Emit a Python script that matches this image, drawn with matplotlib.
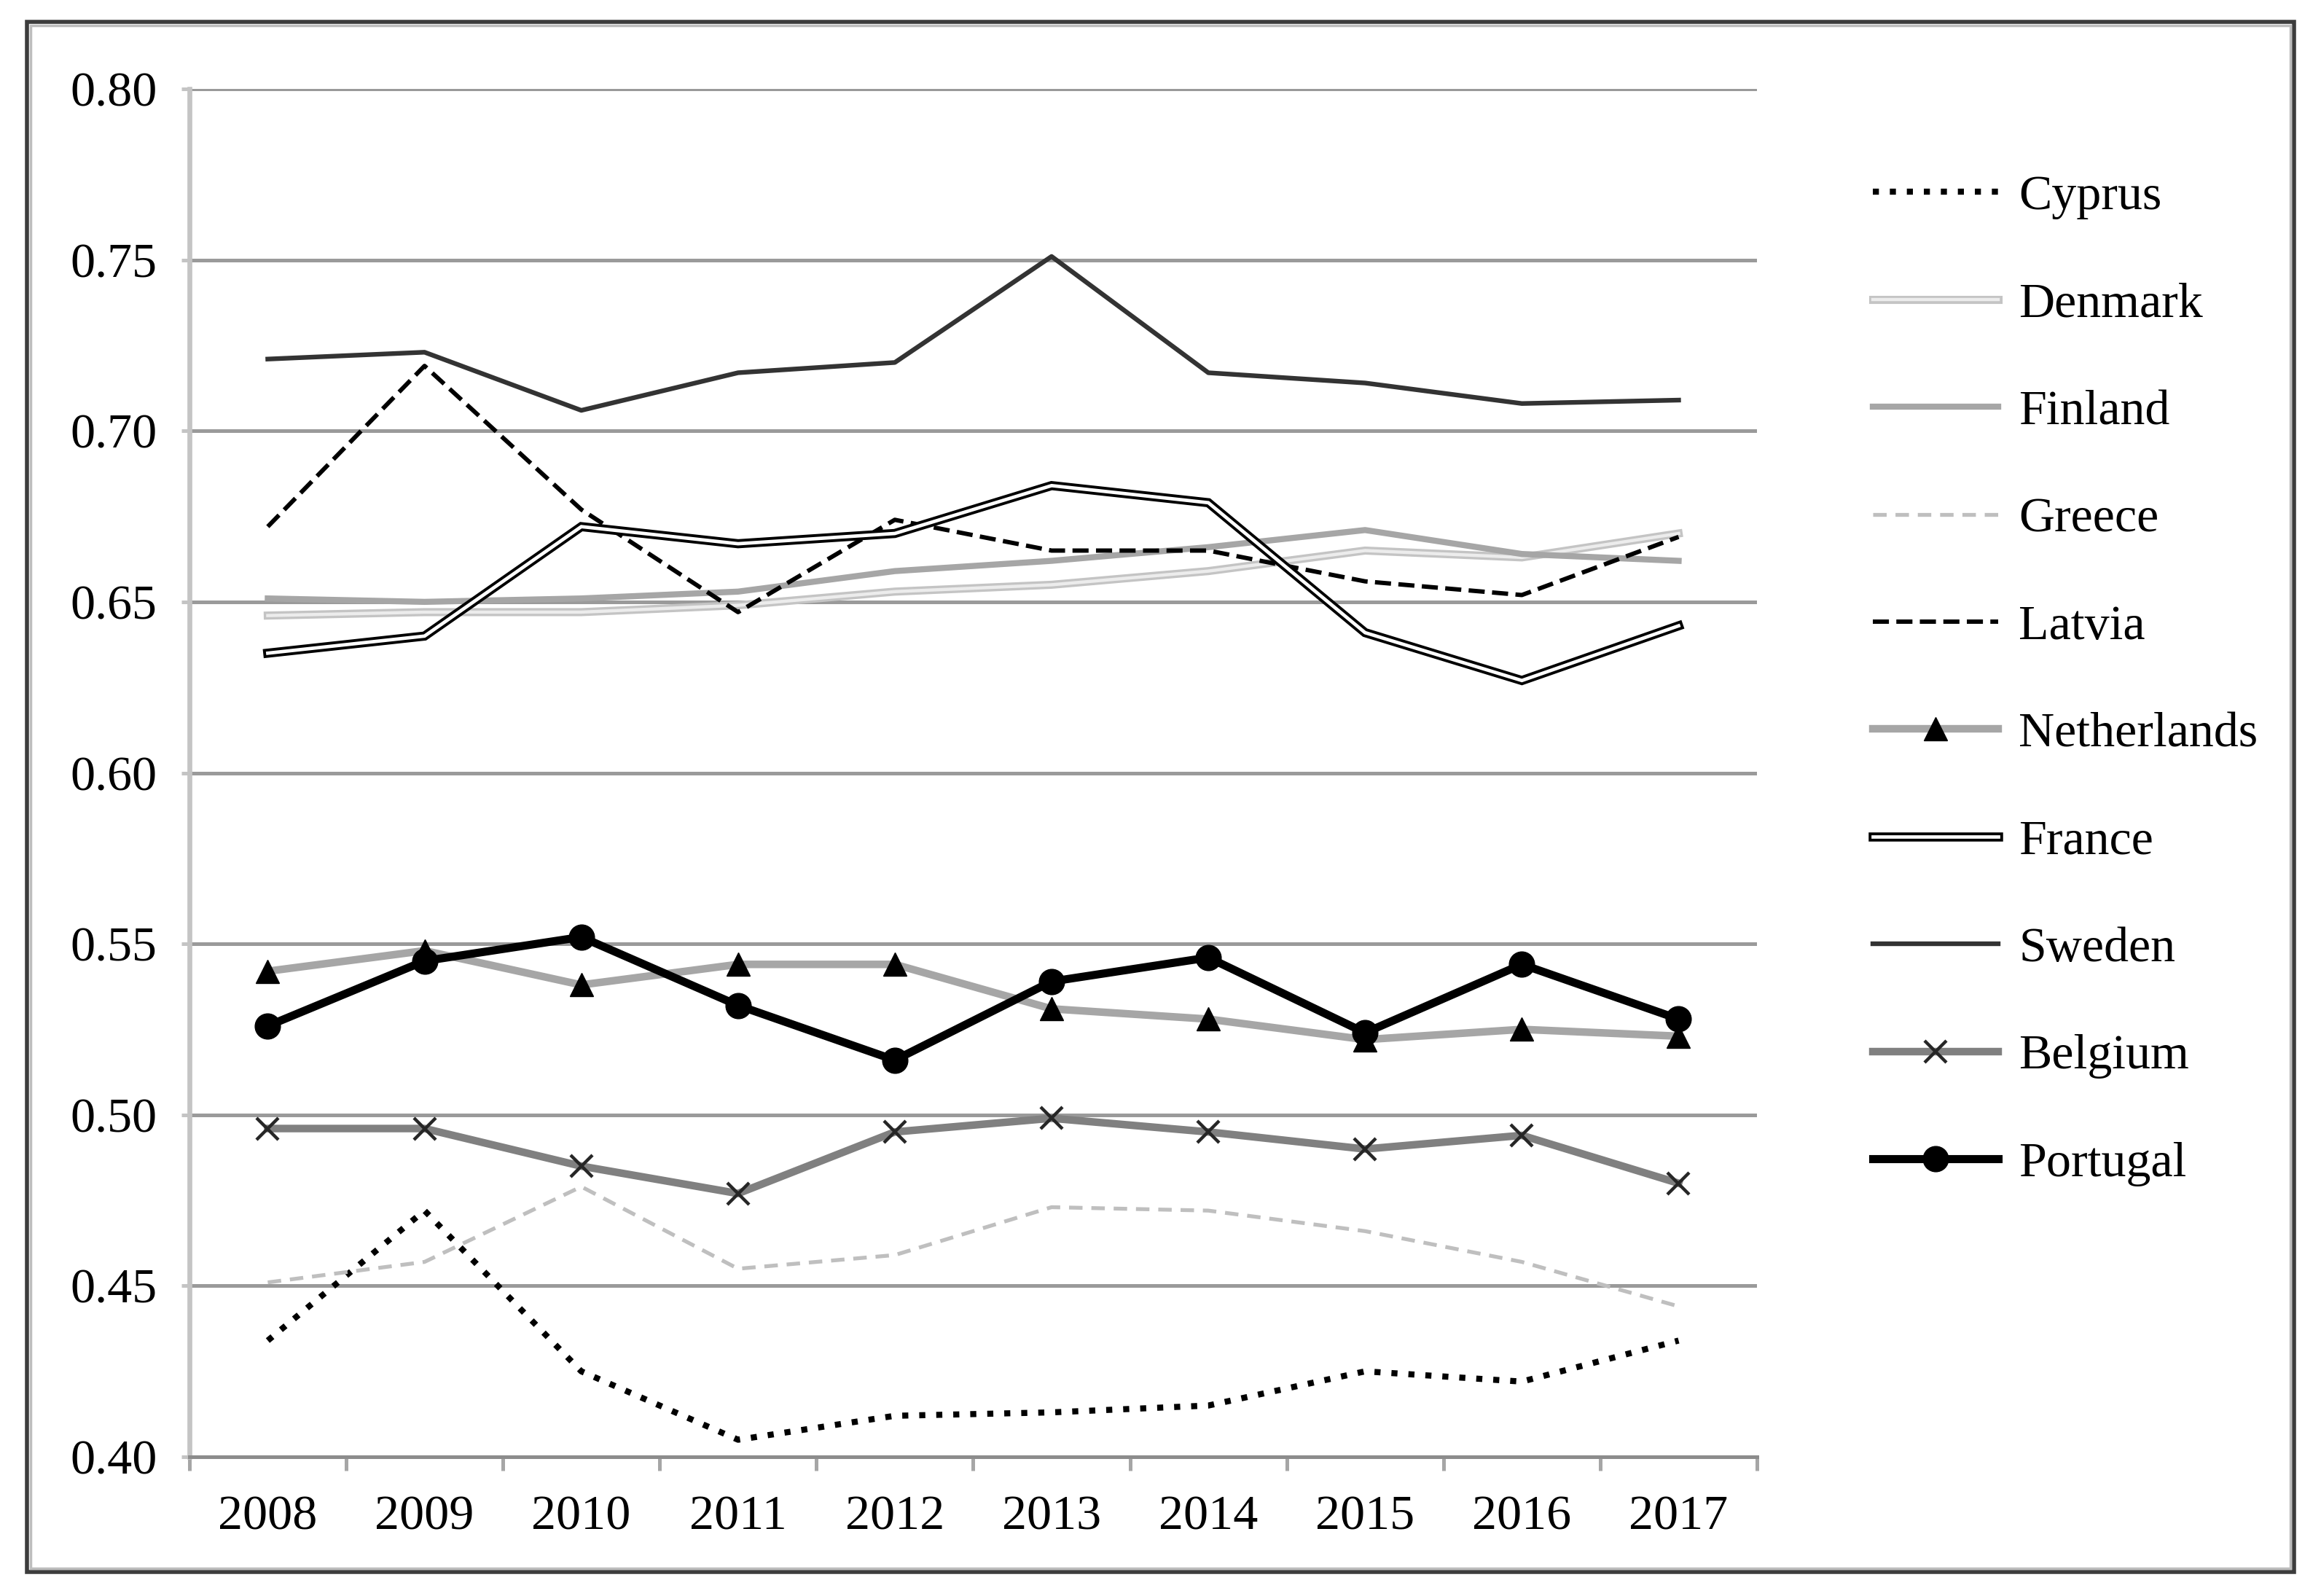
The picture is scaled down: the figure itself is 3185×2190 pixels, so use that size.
import numpy as np
import matplotlib
matplotlib.use("Agg")
import matplotlib.pyplot as plt
from matplotlib.patches import Rectangle
from matplotlib.legend_handler import HandlerTuple

plt.rcParams['font.family'] = ['Liberation Serif', 'DejaVu Serif']

# ---- data ----
years = ["2008", "2009", "2010", "2011", "2012", "2013", "2014", "2015", "2016", "2017"]
y_ticks = [0.40, 0.45, 0.50, 0.55, 0.60, 0.65, 0.70, 0.75, 0.80]
y_tick_labels = ["0.40", "0.45", "0.50", "0.55", "0.60", "0.65", "0.70", "0.75", "0.80"]

cyprus      = [0.434, 0.472, 0.425, 0.405, 0.412, 0.413, 0.415, 0.425, 0.422, 0.434]
denmark     = [0.646, 0.647, 0.647, 0.649, 0.653, 0.655, 0.659, 0.665, 0.663, 0.670]
finland     = [0.651, 0.650, 0.651, 0.653, 0.659, 0.662, 0.666, 0.671, 0.664, 0.662]
greece      = [0.451, 0.457, 0.479, 0.455, 0.459, 0.473, 0.472, 0.466, 0.457, 0.444]
latvia      = [0.672, 0.719, 0.677, 0.647, 0.674, 0.665, 0.665, 0.656, 0.652, 0.669]
netherlands = [0.542, 0.548, 0.538, 0.544, 0.544, 0.531, 0.528, 0.522, 0.525, 0.523]
france      = [0.635, 0.640, 0.672, 0.667, 0.670, 0.684, 0.679, 0.641, 0.627, 0.643]
sweden      = [0.721, 0.723, 0.706, 0.717, 0.720, 0.751, 0.717, 0.714, 0.708, 0.709]
belgium     = [0.496, 0.496, 0.485, 0.477, 0.495, 0.499, 0.495, 0.490, 0.494, 0.480]
portugal    = [0.526, 0.545, 0.552, 0.532, 0.516, 0.539, 0.546, 0.524, 0.544, 0.528]

W, H = 3185, 2190
fig = plt.figure(figsize=(W / 100, H / 100), dpi=100)
fig.patch.set_facecolor('white')

ax = fig.add_axes([0.0816, 0.0872, 0.757 - 0.0816, 0.9443 - 0.0872])
x = np.arange(len(years))

handles = []
labels = []

# Cyprus: black round dots
l, = ax.plot(x, cyprus, color='black', lw=6.0, linestyle=(0, (1.0, 1.8)),
             dash_capstyle='butt', zorder=3)
handles.append(l); labels.append("Cyprus")

# Denmark: light double line
d1, = ax.plot(x, denmark, color='#c4c4c4', lw=8.0, solid_joinstyle='miter', zorder=3)
d2, = ax.plot(x, denmark, color='#ececec', lw=3.2, solid_joinstyle='miter', zorder=3)
handles.append((d1, d2)); labels.append("Denmark")

# Finland: solid gray
l, = ax.plot(x, finland, color='#a6a6a6', lw=6.0, zorder=3)
handles.append(l); labels.append("Finland")

# Greece: light gray dashes
l, = ax.plot(x, greece, color='#bfbfbf', lw=3.8, linestyle=(0, (3.5, 2.3)), zorder=3)
handles.append(l); labels.append("Greece")

# Latvia: black dashes
l, = ax.plot(x, latvia, color='black', lw=4.3, linestyle=(0, (3.7, 1.7)), zorder=3)
handles.append(l); labels.append("Latvia")

# Netherlands: gray line with black triangles
l, = ax.plot(x, netherlands, color='#a6a6a6', lw=7.5, marker='^', markersize=23,
             markerfacecolor='black', markeredgecolor='black', zorder=3)
handles.append(l); labels.append("Netherlands")

# France: black double line
f1, = ax.plot(x, france, color='black', lw=9.0, solid_joinstyle='miter', zorder=3)
f2, = ax.plot(x, france, color='white', lw=3.4, solid_joinstyle='miter', zorder=3)
handles.append((f1, f2)); labels.append("France")

# Sweden: dark gray solid
l, = ax.plot(x, sweden, color='#333333', lw=4.6, zorder=3)
handles.append(l); labels.append("Sweden")

# Belgium: gray with x markers
l, = ax.plot(x, belgium, color='#808080', lw=7.5, marker='x', markersize=22,
             markeredgewidth=3.2, markeredgecolor='#262626', zorder=3)
handles.append(l); labels.append("Belgium")

# Portugal: thick black with circles
l, = ax.plot(x, portugal, color='black', lw=8.0, marker='o', markersize=25,
             markerfacecolor='black', markeredgecolor='black', zorder=3)
handles.append(l); labels.append("Portugal")

# ---- axes styling ----
ax.set_xlim(-0.5, len(years) - 0.5)
ax.set_ylim(0.40, 0.80)
ax.set_yticks(y_ticks)
ax.set_yticklabels(y_tick_labels)
ax.set_xticks(x)
ax.set_xticklabels(years)
ax.set_xticks(np.arange(-0.5, len(years)), minor=True)

ax.grid(axis='y', color='#9a9a9a', lw=3.6, zorder=1)
ax.set_axisbelow(True)
for s in ['top', 'right']:
    ax.spines[s].set_visible(False)
ax.spines['left'].set_color('#c4c4c4')
ax.spines['left'].set_linewidth(4.8)
ax.spines['bottom'].set_color('#8c8c8c')
ax.spines['bottom'].set_linewidth(3.6)

ax.tick_params(axis='y', which='major', length=8, width=3.6, color='#c4c4c4',
               pad=24, labelsize=49, labelcolor='black')
ax.tick_params(axis='x', which='major', length=0, pad=38, labelsize=49,
               labelcolor='black')
ax.tick_params(axis='x', which='minor', length=14, width=3.6, color='#a6a6a6')

# ---- legend ----
leg = ax.legend(handles, labels, loc='upper left',
                bbox_to_anchor=(0.8068, 0.8906), bbox_transform=fig.transFigure,
                frameon=False, fontsize=49, handlelength=2.53, handletextpad=0.42,
                labelspacing=1.26, borderpad=0, borderaxespad=0, numpoints=1,
                handler_map={tuple: HandlerTuple(ndivide=1, pad=0)})

# ---- outer border ----
x0, y0, x1, y1 = 37 / W, 1 - 2157 / H, 3148 / W, 1 - 30 / H
fig.patches.append(Rectangle((x0, y0), x1 - x0, y1 - y0, transform=fig.transFigure,
                             fill=False, edgecolor='#3c3c3c', lw=4.0, zorder=10))
dx, dy = 5 / W, 5 / H
fig.patches.append(Rectangle((x0 + dx, y0 + dy), x1 - x0 - 2 * dx, y1 - y0 - 2 * dy,
                             transform=fig.transFigure, fill=False,
                             edgecolor='#bdbdbd', lw=2.5, zorder=10))

fig.savefig("out.png", dpi=100, facecolor='white')
